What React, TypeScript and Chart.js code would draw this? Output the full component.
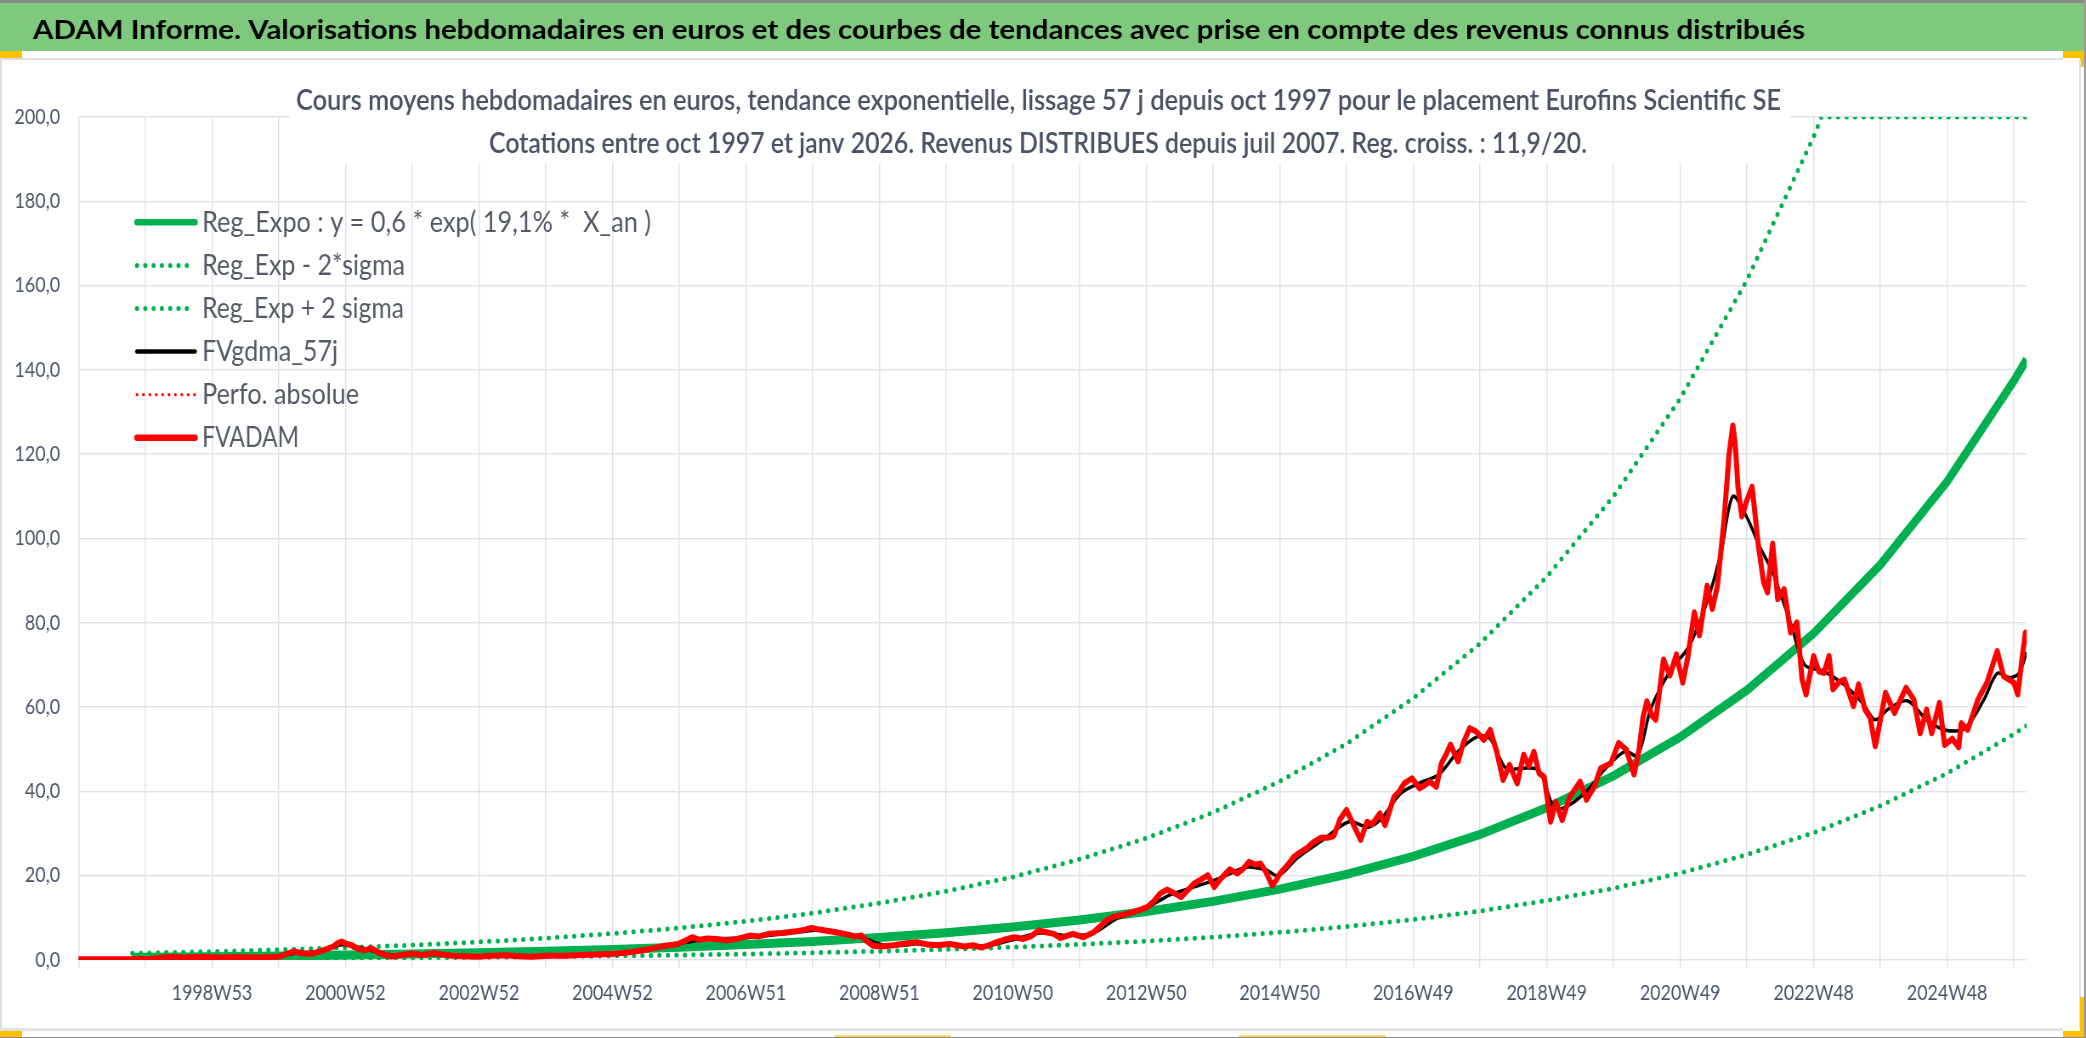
import React, { useEffect, useLayoutEffect, useRef } from 'react';
import { Chart, registerables } from 'chart.js';

Chart.register(...registerables);

// ---------------- DATA ----------------
const bannerTitle =
  'ADAM Informe. Valorisations hebdomadaires en euros et des courbes de tendances avec prise en compte des revenus connus distribués';
const chartTitleLines = [
  'Cours moyens hebdomadaires en euros, tendance exponentielle, lissage 57 j depuis oct 1997 pour le placement Eurofins Scientific SE',
  'Cotations entre oct 1997 et janv 2026. Revenus DISTRIBUES depuis juil 2007. Reg. croiss. : 11,9/20.',
];

// vertical grid lines (week index), one per year
const gridWeeks = [
  0, 52, 104, 156, 208, 260, 312, 364, 416, 468, 520, 572, 624, 676, 728, 780, 832, 884, 936, 988, 1040, 1092,
  1144, 1196, 1248, 1300, 1352, 1404, 1456, 1508,
];
const xTickWeeks = [104, 208, 312, 416, 520, 624, 728, 832, 936, 1040, 1144, 1248, 1352, 1456];
const xTickLabels = [
  '1998W53', '2000W52', '2002W52', '2004W52', '2006W51', '2008W51', '2010W50',
  '2012W50', '2014W50', '2016W49', '2018W49', '2020W49', '2022W48', '2024W48',
];

// trend curves
const trendWeeks = [
  42, 52, 104, 156, 208, 260, 312, 364, 416, 468, 520, 572, 624, 676, 728, 780, 832, 884, 936, 988, 1040, 1092,
  1144, 1196, 1248, 1300, 1352, 1404, 1456, 1508, 1518,
];
const regExpoValues = [
  0.63, 0.65, 0.79, 0.96, 1.16, 1.4, 1.7, 2.06, 2.49, 3.01, 3.65, 4.41, 5.34, 6.47, 7.83, 9.48, 11.5, 13.9, 16.8,
  20.3, 24.6, 29.8, 36.1, 43.7, 52.9, 64.0, 77.5, 93.8, 113.5, 137.4, 142.5,
];
const lowerBandValues = [
  0.25, 0.25, 0.31, 0.37, 0.45, 0.55, 0.66, 0.8, 0.97, 1.17, 1.42, 1.72, 2.08, 2.52, 3.05, 3.7, 4.47, 5.42, 6.56,
  7.93, 9.61, 11.6, 14.1, 17.0, 20.6, 25.0, 30.2, 36.6, 44.3, 53.6, 55.6,
];
const upperBandWeeks = [
  42, 52, 104, 156, 208, 260, 312, 364, 416, 468, 520, 572, 624, 676, 728, 780, 832, 884, 936, 988, 1040, 1092,
  1144, 1196, 1248, 1300, 1352, 1358, 1404, 1456, 1508, 1518,
];
const upperBandValues = [
  1.59, 1.64, 1.99, 2.42, 2.92, 3.53, 4.28, 5.19, 6.27, 7.59, 9.2, 11.1, 13.5, 16.3, 19.7, 23.9, 28.9, 35.0, 42.4,
  51.3, 62.1, 75.1, 90.9, 110.0, 133.2, 161.3, 195.3, 200, 200, 200, 200, 200,
];

// FVADAM weekly valuation
const fvadamWeeks = [
  0, 40, 58, 66, 73, 82, 95, 110, 125, 140, 156, 162, 167, 175, 182, 190, 198, 202, 205, 209, 213, 218, 223, 228,
  235, 244, 252, 260, 268, 276, 284, 291, 300, 312, 322, 333, 343, 353, 366, 379, 392, 405, 418, 431, 440, 448,
  457, 467, 473, 478, 484, 490, 497, 505, 513, 523, 530, 538, 548, 559, 566, 571, 576, 582, 590, 597, 605, 610,
  614, 619, 626, 635, 644, 653, 661, 669, 679, 690, 697, 703, 709, 715, 722, 729, 736, 742, 748, 754, 760, 765,
  770, 775, 783, 791, 796, 801, 806, 812, 817, 822, 828, 833, 838, 843, 848, 853, 859, 864, 869, 874, 880, 885,
  890, 897, 903, 908, 912, 917, 921, 925, 930, 933, 936, 942, 947, 952, 957, 962, 968, 973, 978, 983, 988, 993,
  999, 1004, 1008, 1014, 1018, 1025, 1029, 1033, 1039, 1045, 1049, 1053, 1058, 1062, 1066, 1069, 1075, 1079, 1084,
  1089, 1095, 1100, 1105, 1110, 1115, 1121, 1126, 1130, 1134, 1138, 1142, 1147, 1151, 1156, 1162, 1170, 1175,
  1181, 1186, 1194, 1200, 1206, 1212, 1216, 1219, 1222, 1226, 1229, 1235, 1240, 1245, 1250, 1254, 1259, 1263,
  1269, 1273, 1277, 1282, 1286, 1289, 1291, 1293, 1296, 1300, 1304, 1309, 1313, 1316, 1320, 1324, 1329, 1334,
  1339, 1343, 1346, 1352, 1356, 1360, 1364, 1367, 1372, 1376, 1383, 1387, 1392, 1396, 1400, 1404, 1408, 1415,
  1420, 1424, 1430, 1435, 1440, 1444, 1450, 1454, 1460, 1465, 1467, 1472, 1480, 1487, 1495, 1500, 1508, 1511,
  1514, 1517, 1518,
];
const fvadamValues = [
  0.2, 0.2, 0.3, 0.6, 0.8, 0.6, 0.7, 0.6, 0.7, 0.6, 0.8, 1.4, 2.0, 1.6, 1.5, 2.2, 3.1, 4.0, 4.4, 3.8, 3.5, 2.6,
  2.3, 2.8, 1.6, 0.8, 1.2, 1.5, 1.2, 1.6, 1.3, 1.0, 0.9, 0.8, 1.0, 1.1, 0.9, 0.8, 1.0, 1.0, 1.2, 1.3, 1.5, 1.9,
  2.3, 2.8, 3.4, 3.8, 4.6, 5.4, 4.8, 5.1, 5.0, 4.7, 5.0, 5.8, 5.6, 6.2, 6.4, 6.8, 7.2, 7.6, 7.3, 7.0, 6.6, 6.2,
  5.6, 5.8, 4.5, 3.4, 3.2, 3.5, 3.9, 4.2, 3.7, 3.5, 3.8, 3.2, 3.5, 3.0, 3.4, 4.2, 4.9, 5.4, 5.0, 5.6, 7.0, 6.6,
  6.2, 5.2, 5.7, 6.2, 5.4, 6.6, 8.0, 9.4, 10.2, 10.6, 10.9, 11.4, 12.0, 12.6, 14.0, 15.8, 16.7, 16.0, 14.9, 16.5,
  18.1, 19.0, 20.1, 17.3, 19.3, 21.5, 20.5, 21.8, 23.3, 22.6, 22.9, 21.0, 17.7, 18.8, 20.5, 22.5, 24.5, 25.6,
  26.5, 27.9, 29.0, 29.0, 29.4, 33.4, 35.6, 32.4, 28.5, 32.8, 32.2, 34.8, 32.0, 38.7, 40.0, 41.9, 43.1, 40.7,
  41.5, 42.3, 41.1, 46.7, 49.0, 51.1, 47.1, 51.5, 55.0, 54.2, 52.2, 54.6, 49.4, 42.7, 46.3, 41.9, 48.7, 46.0,
  49.4, 44.3, 43.5, 32.8, 37.5, 33.2, 38.7, 42.3, 38.0, 41.1, 45.5, 46.7, 51.5, 49.9, 44.0, 50.0, 57.5, 61.4,
  58.0, 57.0, 71.3, 67.5, 72.5, 65.8, 72.0, 82.5, 77.0, 88.8, 83.3, 88.8, 103.8, 119.7, 126.8, 122.0, 112.3,
  105.2, 109.1, 112.3, 98.1, 89.6, 87.2, 98.8, 85.6, 88.0, 77.7, 80.1, 66.5, 63.0, 72.1, 68.5, 68.1, 72.1, 64.2,
  66.0, 66.5, 60.2, 65.4, 59.4, 57.5, 50.7, 57.0, 63.4, 58.6, 62.0, 64.6, 61.8, 53.8, 59.4, 53.8, 61.0, 51.0,
  52.5, 50.5, 56.2, 54.6, 61.8, 65.8, 73.3, 67.3, 65.8, 63.0, 70.6, 77.7, 75.4,
];

// FVgdma_57j smoothed curve
const smoothWeeks = [
  0, 60, 100, 150, 170, 190, 205, 220, 240, 270, 300, 350, 400, 440, 470, 490, 520, 560, 580, 600, 615, 630, 660,
  690, 710, 730, 750, 770, 790, 810, 830, 850, 870, 890, 910, 925, 935, 950, 970, 990, 1005, 1015, 1030, 1045,
  1060, 1075, 1090, 1100, 1112, 1125, 1138, 1150, 1160, 1175, 1190, 1205, 1215, 1225, 1240, 1255, 1270, 1280,
  1289, 1300, 1310, 1320, 1335, 1345, 1360, 1375, 1390, 1400, 1410, 1425, 1440, 1455, 1470, 1485, 1495, 1505,
  1512, 1518,
];
const smoothValues = [
  0.2, 0.4, 0.65, 0.75, 1.6, 2.1, 3.6, 2.9, 1.3, 1.35, 1.0, 0.9, 1.2, 2.2, 4.0, 4.9, 5.3, 6.6, 7.1, 6.2, 4.8, 3.4,
  3.9, 3.4, 3.5, 5.0, 6.4, 5.8, 6.3, 10.0, 12.0, 15.4, 17.4, 19.5, 22.0, 21.4, 20.0, 24.3, 28.6, 32.8, 31.5, 33.5,
  39.5, 42.0, 44.0, 49.5, 53.0, 52.5, 45.5, 45.5, 45.0, 36.0, 36.5, 40.0, 45.5, 49.5, 48.5, 59.5, 68.5, 74.5,
  86.0, 97.0, 110.0, 105.0, 98.0, 92.0, 79.0, 70.0, 68.5, 65.5, 61.0, 57.0, 59.5, 61.5, 57.0, 54.5, 55.0, 62.0,
  68.0, 67.0, 68.0, 73.0,
];

const seriesLabels = [
  'Reg_Expo : y = 0,6 * exp( 19,1% *  X_an )',
  'Reg_Exp - 2*sigma',
  'Reg_Exp + 2 sigma',
  'FVgdma_57j',
  'Perfo. absolue',
  'FVADAM',
];

// ---------------- LAYOUT ----------------
const PAGE_W = 2086;
const PAGE_H = 1038;
const CANVAS_H = 1030;
const W_INT = 2454; // internal canvas width, displayed squeezed to PAGE_W
const S = PAGE_W / W_INT;
const px = (x: number) => x / S;

const GREEN = '#00B050';
const RED = '#FF0000';
const GRID = '#dfe3e9';
const TICK_COLOR = '#4a5466';
const LEGEND_COLOR = '#535a64';
const TITLE_COLOR = '#4a5263';

const legendTextWidths = [449, 203, 202, 136, 157, 97];
const legendLine = [
  { w: 6.5, dash: [] as number[] },
  { w: 5, dash: [0, 8.3] },
  { w: 5, dash: [0, 8.3] },
  { w: 4.5, dash: [] as number[] },
  { w: 3.2, dash: [0, 6.4] },
  { w: 6.5, dash: [] as number[] },
];

function drawFitted(
  ctx: CanvasRenderingContext2D,
  text: string,
  x: number,
  y: number,
  targetW: number,
  font: string,
  color: string
) {
  ctx.save();
  ctx.font = font;
  ctx.fillStyle = color;
  ctx.textAlign = 'left';
  ctx.textBaseline = 'alphabetic';
  const w = ctx.measureText(text).width || 1;
  ctx.translate(x, y);
  ctx.scale(targetW / w, 1);
  ctx.fillText(text, 0, 0);
  ctx.restore();
}

const overlayPlugin = {
  id: 'overlayTitleLegend',
  afterDraw(chart: any) {
    const ctx: CanvasRenderingContext2D = chart.ctx;
    ctx.save();
    // banner title (sheet header)
    drawFitted(ctx, bannerTitle, px(33), 39, px(1772), '700 26.5px Lato', '#000000');

    // white title box covering the grid (as in the original)
    ctx.fillStyle = '#ffffff';
    ctx.fillRect(px(290), 61, px(1790) - px(290), 163 - 61);
    drawFitted(ctx, chartTitleLines[0], px(296), 110, px(1485), '600 28px Lato', TITLE_COLOR);
    drawFitted(ctx, chartTitleLines[1], px(489), 152.5, px(1098), '600 28px Lato', TITLE_COLOR);

    // legend (vertical, inside the plot area)
    const ds = chart.data.datasets;
    for (let i = 0; i < ds.length; i++) {
      const d = ds[i];
      const lineY = 222.3 + 43.1 * i;
      const baseY = 231.6 + 43.1 * i;
      const st = legendLine[i];
      ctx.save();
      ctx.strokeStyle = d.borderColor;
      ctx.lineWidth = st.w;
      ctx.lineCap = 'round';
      ctx.setLineDash(st.dash.map((v) => v / S));
      ctx.beginPath();
      ctx.moveTo(px(137), lineY);
      ctx.lineTo(px(195), lineY);
      ctx.stroke();
      ctx.restore();
      drawFitted(ctx, d.label, px(202), baseY, px(legendTextWidths[i]), '28px Lato', LEGEND_COLOR);
    }
    ctx.restore();
  },
};

function pts(xs: number[], ys: number[]) {
  return xs.map((x, i) => ({ x, y: ys[i] }));
}

export default function App() {
  const canvasRef = useRef<HTMLCanvasElement>(null);

  useLayoutEffect(() => {
    document.body.style.margin = '0';
  }, []);

  useEffect(() => {
    if (!canvasRef.current) return;
    const chart = new Chart(canvasRef.current, {
      type: 'line',
      data: {
        datasets: [
          {
            label: seriesLabels[0],
            data: pts(trendWeeks, regExpoValues),
            borderColor: GREEN,
            borderWidth: 9,
            pointRadius: 0,
            tension: 0,
            order: 5,
          },
          {
            label: seriesLabels[1],
            data: pts(trendWeeks, lowerBandValues),
            borderColor: GREEN,
            borderWidth: 5,
            borderDash: [0, 10],
            borderCapStyle: 'round',
            pointRadius: 0,
            tension: 0,
            order: 4,
          },
          {
            label: seriesLabels[2],
            data: pts(upperBandWeeks, upperBandValues),
            borderColor: GREEN,
            borderWidth: 5,
            borderDash: [0, 10],
            borderCapStyle: 'round',
            pointRadius: 0,
            tension: 0,
            order: 3,
          },
          {
            label: seriesLabels[3],
            data: pts(smoothWeeks, smoothValues),
            borderColor: '#000000',
            borderWidth: 3.5,
            borderJoinStyle: 'round',
            pointRadius: 0,
            tension: 0.3,
            order: 2,
          },
          {
            label: seriesLabels[4],
            data: [],
            borderColor: RED,
            borderWidth: 3,
            borderDash: [0, 7],
            borderCapStyle: 'round',
            pointRadius: 0,
            order: 1,
          },
          {
            label: seriesLabels[5],
            data: pts(fvadamWeeks, fvadamValues),
            borderColor: RED,
            borderWidth: 6,
            borderJoinStyle: 'round',
            borderCapStyle: 'round',
            pointRadius: 0,
            tension: 0,
            order: 0,
          },
        ],
      },
      options: {
        animation: false,
        responsive: false,
        devicePixelRatio: 1,
        events: [],
        layout: { padding: { left: 0, right: (PAGE_W - 2026.7) / S, top: 117, bottom: 0 } },
        plugins: {
          legend: { display: false },
          title: { display: false },
          tooltip: { enabled: false },
        },
        scales: {
          x: {
            type: 'linear',
            min: 0,
            max: 1518,
            afterBuildTicks: (scale: any) => {
              scale.ticks = gridWeeks.map((v) => ({ value: v }));
            },
            afterFit: (scale: any) => {
              scale.height = CANVAS_H - 960;
            },
            ticks: {
              autoSkip: false,
              maxRotation: 0,
              minRotation: 0,
              padding: 13,
              color: TICK_COLOR,
              font: { family: 'Lato', size: 21 },
              callback: (v: any) => {
                const i = xTickWeeks.indexOf(Number(v));
                return i >= 0 ? xTickLabels[i] : '';
              },
            },
            grid: { color: GRID, lineWidth: 1.5, tickLength: 8, drawTicks: true, tickColor: GRID },
            border: { display: false },
          },
          y: {
            min: 0,
            max: 200,
            afterFit: (scale: any) => {
              scale.width = px(78.5);
            },
            ticks: {
              stepSize: 20,
              padding: px(78.5) - px(60),
              color: TICK_COLOR,
              font: { family: 'Lato', size: 21 },
              callback: (v: any) => Number(v).toFixed(1).replace('.', ','),
            },
            grid: { color: GRID, lineWidth: 1.5, drawTicks: false },
            border: { display: false },
          },
        },
      } as any,
      plugins: [overlayPlugin],
    });
    return () => chart.destroy();
  }, []);

  const abs = (l: number, t: number, w: number, h: number, bg: string): React.CSSProperties => ({
    position: 'absolute',
    left: l,
    top: t,
    width: w,
    height: h,
    background: bg,
  });

  return (
    <div
      style={{
        position: 'relative',
        width: PAGE_W,
        height: PAGE_H,
        overflow: 'hidden',
        background: '#ffffff',
        fontFamily: 'Lato, sans-serif',
      }}
    >
      {/* banner background and sheet frame (under the transparent canvas) */}
      <div style={abs(0, 0, PAGE_W, 3, '#8a8a8a')} />
      <div style={abs(0, 3, 2084, 47.5, '#7fc97f')} />
      <div style={abs(0, 57.5, 2063, 2.5, '#dcdfe4')} />
      <div style={abs(0, 50.5, 22, 7, '#FFC000')} />
      <div style={abs(2063, 50.5, 21, 7.5, '#FFC000')} />
      <div style={abs(2080, 58, 4, 9, '#FFC000')} />
      <div style={abs(0, 60, 2, 968, '#dcdfe4')} />
      <div style={abs(2079, 60, 2, 968, '#dcdfe4')} />
      <div style={abs(2084, 0, 2, PAGE_H, '#9a9a9a')} />
      <canvas
        ref={canvasRef}
        width={W_INT}
        height={CANVAS_H}
        style={{ position: 'absolute', left: 0, top: 0, width: PAGE_W, height: CANVAS_H, display: 'block' }}
      />
      <div style={abs(0, 1028, 2063, 3, '#e0e2e6')} />
      <div style={abs(0, 1031, 22, 7, '#FFC000')} />
      <div style={abs(2063, 1031, 17, 6, '#FFC000')} />
      <div style={abs(2080, 997, 4, 40, '#FFC000')} />
      <div style={abs(835, 1035, 116, 3, '#FFD966')} />
      <div style={abs(1239, 1035, 147, 3, '#FFD966')} />
      <div style={abs(0, 1036.5, PAGE_W, 1.5, '#8a8a8a')} />
    </div>
  );
}
